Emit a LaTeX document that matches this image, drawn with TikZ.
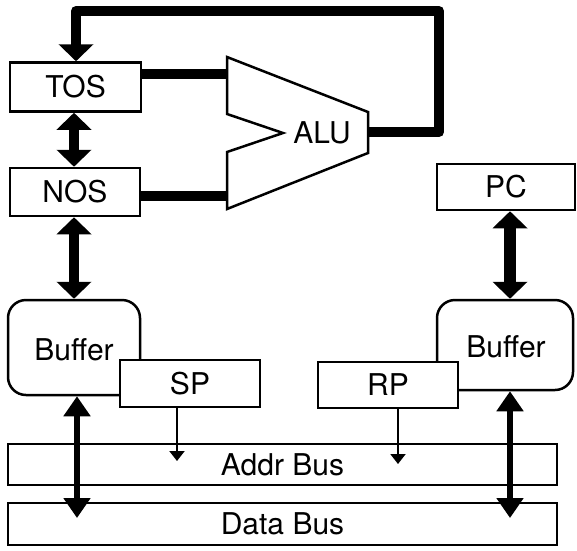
\documentclass[tikz,border=0pt]{standalone}
\usepackage{fontspec}
\setmainfont{TeX Gyre Heros}
\usetikzlibrary{arrows.meta}
\begin{document}
\begin{tikzpicture}[x=1pt,y=-1pt,
  box/.style={draw,line width=2.5pt,fill=white,inner sep=0pt,font=\fontsize{30}{33}\selectfont},
  bufbox/.style={box,rounded corners=18pt},
  bigarrow/.style={line width=10pt,{Triangle[width=34pt,length=17pt]}-{Triangle[width=34pt,length=17pt]}},
  busarrow/.style={line width=6pt,{Triangle[width=26pt,length=20pt]}-{Triangle[width=26pt,length=20pt]}},
  thinarrow/.style={line width=2pt,-{Triangle[width=15pt,length=10pt]}},
  wire/.style={line width=10pt},
  lbl/.style={font=\fontsize{30}{33}\selectfont,inner sep=0pt}]
\useasboundingbox (0,0) rectangle (577,550);
% boxes
\node[box,minimum width=131pt,minimum height=49pt] (tos) at (75.5,87) {TOS};
\node[box,minimum width=130pt,minimum height=48pt] (nos) at (75,192) {NOS};
\node[box,minimum width=138pt,minimum height=46pt] (pc) at (506,187) {PC};
\node[bufbox,minimum width=132pt,minimum height=95pt] (lbuf) at (74,347.5) {};
\node[lbl] at (74,350) {Buffer};
\node[bufbox,minimum width=136pt,minimum height=90pt] (rbuf) at (505,345) {};
\node[lbl] at (506,347) {Buffer};
\node[box,minimum width=140pt,minimum height=47pt] (sp) at (190,383.5) {SP};
\node[box,minimum width=140pt,minimum height=46pt] (rp) at (388,385) {RP};
\node[box,minimum width=549pt,minimum height=41pt] (addr) at (282.5,464.5) {Addr Bus};
\node[box,minimum width=549pt,minimum height=42pt] (data) at (282.5,524) {Data Bus};
% ALU
\draw[line width=2.5pt,line join=miter] (227,57) -- (368,112) -- (368,153) -- (227,209) -- (227,152) -- (283,133) -- (227,114) -- cycle;
\node[lbl] (alu) at (322,133) {ALU};
\coordinate (aluin1) at (227,74);
\coordinate (aluin2) at (227,196);
\coordinate (aluout) at (368,132);
% wires
\draw[wire] (tos.east |- aluin1) -- (aluin1);
\draw[wire] (nos.east |- aluin2) -- (aluin2);
\draw[wire,line join=round,-{Triangle[width=34pt,length=17pt]}] (aluout) -- (439,132) -- (439,11) -- (76,11) -- (76,62 |- tos.north);
% arrows
\draw[bigarrow] (74,0 |- tos.south) -- (74,0 |- nos.north);
\draw[bigarrow] (74,0 |- nos.south) -- (74,0 |- lbuf.north);
\draw[bigarrow,line width=12pt] (510,0 |- pc.south) -- (510,0 |- rbuf.north);
\draw[busarrow] (77,0 |- lbuf.south) -- (77,518);
\draw[busarrow] (510,0 |- rbuf.south) -- (510,518);
\draw[thinarrow] (177,0 |- sp.south) -- (177,461);
\draw[thinarrow] (398,0 |- rp.south) -- (398,464);
\end{tikzpicture}
\end{document}
